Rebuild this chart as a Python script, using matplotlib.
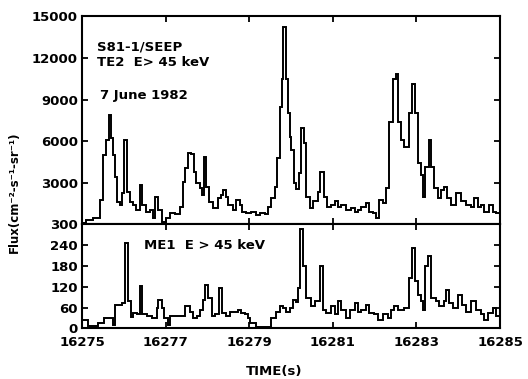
import matplotlib
matplotlib.use('Agg')
from matplotlib import pyplot as plt

plt.rcParams['font.family'] = 'DejaVu Sans'
plt.rcParams['font.weight'] = 'bold'

t0 = 16275

# TE2 channel: bin start times (s after t0) and flux per bin
te2_time = [0.00, 0.10, 0.26, 0.43, 0.50, 0.57, 0.65, 0.69, 0.74, 0.79,
            0.84, 0.91, 0.96, 1.00, 1.08, 1.15, 1.22, 1.29, 1.39, 1.44,
            1.53, 1.63, 1.70, 1.75, 1.82, 1.91, 2.01, 2.11, 2.22, 2.34,
            2.42, 2.46, 2.54, 2.61, 2.68, 2.73, 2.82, 2.87, 2.92, 2.97,
            3.04, 3.13, 3.25, 3.33, 3.37, 3.44, 3.49, 3.61, 3.68, 3.78,
            3.83, 3.92, 4.04, 4.16, 4.26, 4.38, 4.45, 4.52, 4.62, 4.67,
            4.74, 4.78, 4.81, 4.88, 4.93, 4.98, 5.00, 5.07, 5.12, 5.19,
            5.24, 5.31, 5.36, 5.45, 5.53, 5.65, 5.69, 5.79, 5.86, 5.96,
            6.05, 6.12, 6.20, 6.32, 6.44, 6.53, 6.60, 6.67, 6.79, 6.87,
            6.96, 7.03, 7.11, 7.20, 7.27, 7.34, 7.44, 7.51, 7.56, 7.63,
            7.70, 7.82, 7.89, 7.97, 8.04, 8.11, 8.16, 8.21, 8.30, 8.35,
            8.42, 8.52, 8.59, 8.66, 8.73, 8.83, 8.95, 9.07, 9.19, 9.31,
            9.38, 9.47, 9.55, 9.62, 9.74, 9.83, 9.90, 10.00]
te2_flux = [100, 310, 450, 1770, 5030, 6120, 7930, 6270, 5030, 3430,
            1610, 1400, 2270, 6120, 2340, 1610, 1400, 1040, 2860, 1400,
            900, 1040, 450, 1970, 1040, 170, 450, 820, 740, 1260,
            3070, 4090, 5180, 5050, 3790, 3000, 2630, 2130, 4880, 2690,
            1610, 1180, 1910, 2130, 2490, 1970, 1400, 1040, 1770, 1400,
            900, 820, 900, 680, 820, 750, 1260, 1910, 2690, 4810,
            8440, 10480, 14250, 10480, 8070, 6340, 5390, 3000, 2590, 3720,
            6990, 5900, 1970, 1180, 1670, 2340, 3790, 1970, 1260, 1400,
            1670, 1260, 1400, 1040, 1180, 900, 1040, 1260, 1540, 900,
            820, 450, 1770, 1540, 2630, 7360, 10480, 10840, 7360, 6120,
            5610, 8070, 10110, 8070, 4450, 3580, 1970, 4160, 6120, 4160,
            2630, 1910, 2490, 2690, 1910, 1400, 2270, 1670, 1400, 1260,
            1910, 1260, 1400, 900, 1400, 900, 820]

# ME1 channel
me1_time = [0.00, 0.14, 0.38, 0.53, 0.74, 0.79, 0.96, 1.03, 1.10, 1.17,
            1.22, 1.32, 1.39, 1.44, 1.56, 1.67, 1.79, 1.82, 1.91, 1.96,
            2.06, 2.11, 2.46, 2.58, 2.66, 2.75, 2.82, 2.89, 2.94, 3.01,
            3.11, 3.18, 3.28, 3.35, 3.44, 3.54, 3.73, 3.80, 3.90, 3.97,
            4.02, 4.16, 4.52, 4.64, 4.74, 4.81, 4.88, 4.98, 5.05, 5.12,
            5.17, 5.22, 5.29, 5.36, 5.48, 5.57, 5.69, 5.77, 5.84, 5.96,
            6.05, 6.12, 6.20, 6.32, 6.41, 6.53, 6.60, 6.67, 6.79, 6.87,
            6.99, 7.08, 7.20, 7.32, 7.39, 7.46, 7.56, 7.70, 7.82, 7.89,
            7.97, 8.04, 8.11, 8.16, 8.21, 8.28, 8.35, 8.47, 8.54, 8.66,
            8.71, 8.78, 8.88, 9.00, 9.09, 9.19, 9.31, 9.43, 9.55, 9.62,
            9.71, 9.83, 9.90, 10.00]
me1_flux = [24, 7, 15, 30, 10, 68, 74, 246, 78, 34,
            44, 40, 121, 40, 35, 30, 59, 83, 59, 30,
            10, 35, 63, 48, 30, 35, 53, 83, 126, 87,
            35, 40, 117, 44, 35, 48, 53, 44, 40, 30,
            15, 5, 30, 48, 63, 59, 48, 59, 83, 76,
            117, 287, 180, 87, 63, 78, 180, 53, 44, 63,
            40, 78, 53, 30, 53, 74, 48, 53, 68, 44,
            40, 24, 40, 30, 53, 63, 53, 59, 146, 233,
            136, 97, 78, 53, 180, 209, 87, 78, 63, 78,
            112, 74, 59, 97, 68, 48, 78, 53, 40, 24,
            44, 59, 35]

xticks = [16275, 16277, 16279, 16281, 16283, 16285]
te2_yticks = [3000, 6000, 9000, 12000, 15000]
me1_yticks = [0, 60, 120, 180, 240, 300]

fig = plt.figure(figsize=(5.28, 3.79), dpi=100)
ax1 = fig.add_axes([0.1553, 0.4077, 0.7917, 0.5488])
ax2 = fig.add_axes([0.1553, 0.1338, 0.7917, 0.2739], sharex=ax1)

ax1.stairs(te2_flux, [t0 + t for t in te2_time], color='black', linewidth=1.4)
ax2.stairs(me1_flux, [t0 + t for t in me1_time], color='black', linewidth=1.4)

ax1.set_xlim(16275, 16285)
ax1.set_ylim(0, 15000)
ax2.set_ylim(0, 300)
ax1.set_xticks(xticks)
ax1.set_yticks(te2_yticks)
ax2.set_yticks(me1_yticks)

for ax in (ax1, ax2):
    ax.tick_params(direction='in', top=True, right=True, length=4.5, width=1.3,
                   labelsize=9.5, pad=3)
    for s in ax.spines.values():
        s.set_linewidth(1.5)
ax1.tick_params(labelbottom=False)
ax2.tick_params(axis='x', pad=5.5)

ax1.text(16275.36, 12800, 'S81-1/SEEP', fontsize=9.5, va='center')
ax1.text(16275.36, 11700, 'TE2  E> 45 keV', fontsize=9.5, va='center')
ax1.text(16275.43, 9300, '7 June 1982', fontsize=9.5, va='center')
ax2.text(16276.48, 240, 'ME1  E > 45 keV', fontsize=9.5, va='center')

fig.text(0.519, 0.02, 'TIME(s)', fontsize=9.5, ha='center', va='center')
fig.text(0.028, 0.493, 'Flux(cm⁻²-s⁻¹-sr⁻¹)', fontsize=8.5, rotation=90,
         ha='center', va='center')

plt.savefig('out.png', dpi=100)
